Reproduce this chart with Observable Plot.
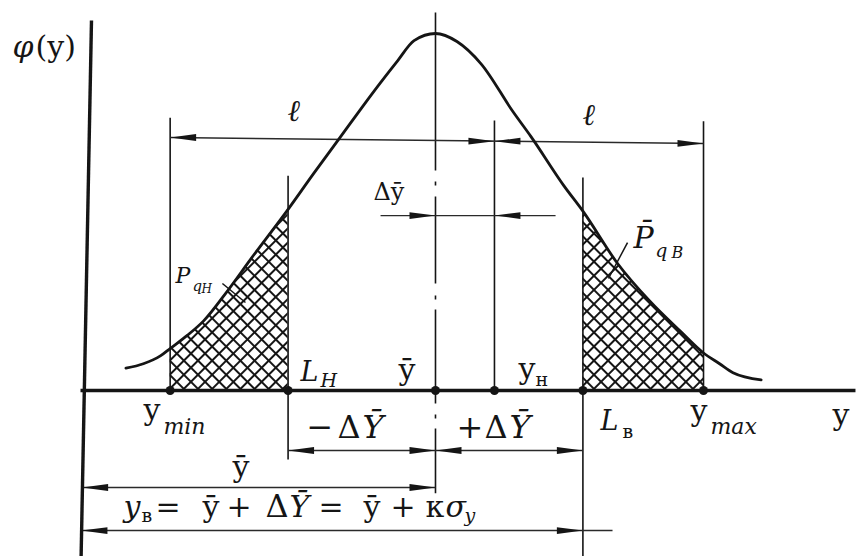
<!DOCTYPE html>
<html><head><meta charset="utf-8">
<script src="https://cdn.jsdelivr.net/npm/d3@7"></script>
<script src="https://cdn.jsdelivr.net/npm/@observablehq/plot@0.6"></script>
<style>html,body{margin:0;padding:0;background:#fff;}</style>
</head><body><div id="chart"></div>
<script>
// ---- curve φ(y) (x in units, ȳ = 0) ----
const curveX = [-2.31, -2.18, -2.05, -1.98, -1.85, -1.73, -1.55, -1.38, -1.10, -0.91, -0.72, -0.54, -0.41, -0.28, -0.16, 0, 0.16, 0.34, 0.58, 0.71, 0.96, 1.10, 1.36, 1.60, 1.83, 2.00, 2.12, 2.22, 2.43];
const curvePhi = [0.025, 0.030, 0.039, 0.047, 0.062, 0.078, 0.112, 0.147, 0.203, 0.243, 0.282, 0.319, 0.345, 0.370, 0.392, 0.400, 0.391, 0.366, 0.312, 0.285, 0.229, 0.201, 0.142, 0.100, 0.066, 0.042, 0.030, 0.020, 0.012];

// ---- key abscissae ----
const pointNames = ["ymin", "LH", "ybar", "yH", "LB", "ymax"];
const pointX = [-1.98, -1.10, 0, 0.44, 1.10, 2.00];

// ---- extension (vertical) lines: x, bottom φ, top φ ----
const extX = [-1.98, -1.10, 0.44, 1.10, 2.00];
const extLow = [0, -0.078, 0, -0.19, 0];
const extHigh = [0.305, 0.240, 0.302, 0.238, 0.301];

// centre line
const centreLine = [{x1: 0, y1: 0.4235, x2: 0, y2: -0.115}];

// axes
const axesLines = [
  {x1: -2.567, y1: 0.4146, x2: -2.645, y2: -0.19},
  {x1: -2.649, y1: 0, x2: 3.134, y2: 0}
];

// dimension lines
const dimX1 = [-1.98, -0.41, -1.10, -2.637, -2.642];
const dimY1 = [0.2835, 0.196, -0.0672, -0.1087, -0.1569];
const dimX2 = [2.00, 0.896, 1.10, 0, 1.321];
const dimY2 = [0.2768, 0.196, -0.0672, -0.1087, -0.1569];

// arrow tips
const tipsLeftX = [-1.98, 0.44, 0.44, -1.10, 0, -2.637, -2.642];
const tipsLeftY = [0.2835, 0.2794, 0.196, -0.0672, -0.0672, -0.1087, -0.1569];
const tipsRightX = [0.44, 2.00, 0, 0, 1.10, 0, 1.10];
const tipsRightY = [0.2794, 0.2768, 0.196, -0.0672, -0.0672, -0.1087, -0.1569];

// leader lines
const leaders = [
  {x1: -1.590, y1: 0.1199, x2: -1.418, y2: 0.0986},
  {x1: 1.433, y1: 0.1658, x2: 1.291, y2: 0.1255}
];

// ---- labels (text, x, baseline φ) ----
const labUp30 = [
  {t: "(y)", x: -2.985, y: 0.3742},
  {t: "ȳ", x: -0.276, y: 0.0123},
  {t: "y", x: 0.619, y: 0.0134},
  {t: "y", x: 1.903, y: -0.0347},
  {t: "y", x: -2.179, y: -0.0336},
  {t: "y", x: 2.963, y: -0.0381},
  {t: "ȳ", x: -1.515, y: -0.0964},
  {t: "=", x: -2.090, y: -0.1412},
  {t: "ȳ", x: -1.739, y: -0.1412},
  {t: "+", x: -1.560, y: -0.1412},
  {t: "=", x: -0.873, y: -0.1412},
  {t: "ȳ", x: -0.537, y: -0.1412},
  {t: "+", x: -0.336, y: -0.1412},
  {t: "κ", x: -0.075, y: -0.1412}
];
const labIt30 = [
  {t: "φ", x: -3.157, y: 0.3742},
  {t: "ℓ", x: -1.104, y: 0.3025},
  {t: "ℓ", x: 1.097, y: 0.2980},
  {t: "y", x: -2.328, y: -0.1412},
  {t: "Ȳ", x: -1.090, y: -0.1412},
  {t: "σ", x: 0.075, y: -0.1412},
  {t: "P\u0304", x: 1.478, y: 0.1602}
];
const labUp32 = [
  {t: "−", x: -0.963, y: -0.0527},
  {t: "Δ", x: -0.731, y: -0.0527},
  {t: "+", x: 0.157, y: -0.0527},
  {t: "Δ", x: 0.366, y: -0.0527},
  {t: "Δ", x: -1.269, y: -0.1412}
];
const labIt32 = [
  {t: "Ȳ", x: -0.545, y: -0.0527},
  {t: "Ȳ", x: 0.552, y: -0.0527}
];
const labIt27 = [
  {t: "L", x: -1.007, y: 0.0112},
  {t: "L", x: 1.231, y: -0.0448}
];
const labUp24 = [{t: "Δȳ", x: -0.463, y: 0.2129}];
const labIt22 = [
  {t: "min", x: -2.030, y: -0.0482},
  {t: "max", x: 2.052, y: -0.0482},
  {t: "P", x: -1.940, y: 0.1210}
];
const labIt19 = [
  {t: "H", x: -0.858, y: 0.0034},
  {t: "q", x: 1.640, y: 0.1501},
  {t: "y", x: 0.216, y: -0.1468}
];
const labIt16 = [{t: "B", x: 1.762, y: 0.1490}];
const labUp19 = [
  {t: "н", x: 0.746, y: 0.0056},
  {t: "в", x: 1.396, y: -0.0527},
  {t: "в", x: -2.194, y: -0.1468}
];
const labIt15 = [{t: "q", x: -1.813, y: 0.1120}];
const labIt12 = [{t: "H", x: -1.746, y: 0.1087}];

// ---- build tables ----
const curve = curveX.map((x, i) => ({x, phi: curvePhi[i]}));
const leftTail = curve.filter(d => d.x >= pointX[0] - 1e-9 && d.x <= pointX[1] + 1e-9);
const rightTail = curve.filter(d => d.x >= pointX[4] - 1e-9 && d.x <= pointX[5] + 1e-9);
const ext = extX.map((x, i) => ({x, lo: extLow[i], hi: extHigh[i]}));
const dims = dimX1.map((x1, i) => ({x1, y1: dimY1[i], x2: dimX2[i], y2: dimY2[i]}));
const tipsL = tipsLeftX.map((x, i) => ({x, y: tipsLeftY[i]}));
const tipsR = tipsRightX.map((x, i) => ({x, y: tipsRightY[i]}));
const dots = pointX.map((x, i) => ({name: pointNames[i], x, y: 0}));

const ink = "#151515";
const FONT = "DejaVu Serif";
const arrowRight = {draw(c) { c.moveTo(0, 0); c.lineTo(-26, -3.4); c.lineTo(-26, 3.4); c.closePath(); }};
const arrowLeft = {draw(c) { c.moveTo(0, 0); c.lineTo(26, -3.4); c.lineTo(26, 3.4); c.closePath(); }};

function txt(data, size, style) {
  return Plot.text(data, {x: "x", y: "y", text: "t", fontSize: size, fontStyle: style,
    fontFamily: FONT, textAnchor: "start", lineAnchor: "bottom", fill: ink});
}

const plot = Plot.plot({
  width: 859, height: 556,
  marginTop: 0, marginRight: 0, marginBottom: 0, marginLeft: 0,
  x: {domain: [-3.246, 3.164], axis: null},
  y: {domain: [-0.186, 0.437], axis: null},
  style: {background: "white", color: ink},
  marks: [
    Plot.areaY(leftTail, {x: "x", y: "phi", curve: "monotone-x", fill: "url(#xhatch)"}),
    Plot.areaY(rightTail, {x: "x", y: "phi", curve: "monotone-x", fill: "url(#xhatch)"}),
    Plot.ruleX(ext, {x: "x", y1: "lo", y2: "hi", stroke: ink, strokeWidth: 1.6}),
    Plot.link(centreLine, {x1: "x1", y1: "y1", x2: "x2", y2: "y2", stroke: ink, strokeWidth: 1.6,
      strokeDasharray: "158,11,4,11,87,12,4,10,94,11,4,10,70"}),
    Plot.link(dims, {x1: "x1", y1: "y1", x2: "x2", y2: "y2", stroke: "#2a2a2a", strokeWidth: 1.4}),
    Plot.link(leaders, {x1: "x1", y1: "y1", x2: "x2", y2: "y2", stroke: ink, strokeWidth: 1.5}),
    Plot.line(curve, {x: "x", y: "phi", curve: "monotone-x", stroke: ink, strokeWidth: 2.8}),
    Plot.link(axesLines, {x1: "x1", y1: "y1", x2: "x2", y2: "y2", stroke: ink, strokeWidth: 3.4}),
    Plot.dot(dots, {x: "x", y: "y", r: 4.5, fill: ink, stroke: "none"}),
    Plot.dot(tipsR, {x: "x", y: "y", symbol: arrowRight, fill: ink, stroke: "none"}),
    Plot.dot(tipsL, {x: "x", y: "y", symbol: arrowLeft, fill: ink, stroke: "none"}),
    txt(labUp30, 30, "normal"),
    txt(labIt30, 30, "italic"),
    txt(labUp32, 32, "normal"),
    txt(labIt32, 32, "italic"),
    txt(labIt27, 27, "italic"),
    txt(labUp24, 24, "normal"),
    txt(labIt22, 22, "italic"),
    txt(labIt19, 19, "italic"),
    txt(labIt16, 16, "italic"),
    txt(labUp19, 19, "normal"),
    txt(labIt15, 15, "italic"),
    txt(labIt12, 12, "italic")
  ]
});

const ns = "http://www.w3.org/2000/svg";
const defs = document.createElementNS(ns, "defs");
defs.innerHTML = '<pattern id="xhatch" patternUnits="userSpaceOnUse" width="10" height="10" patternTransform="rotate(45)">' +
  '<rect width="10" height="10" fill="white"/><path d="M0,5H10M5,0V10" stroke="#151515" stroke-width="2"/></pattern>';
plot.insertBefore(defs, plot.firstChild);
document.getElementById("chart").appendChild(plot);
</script>
</body></html>
